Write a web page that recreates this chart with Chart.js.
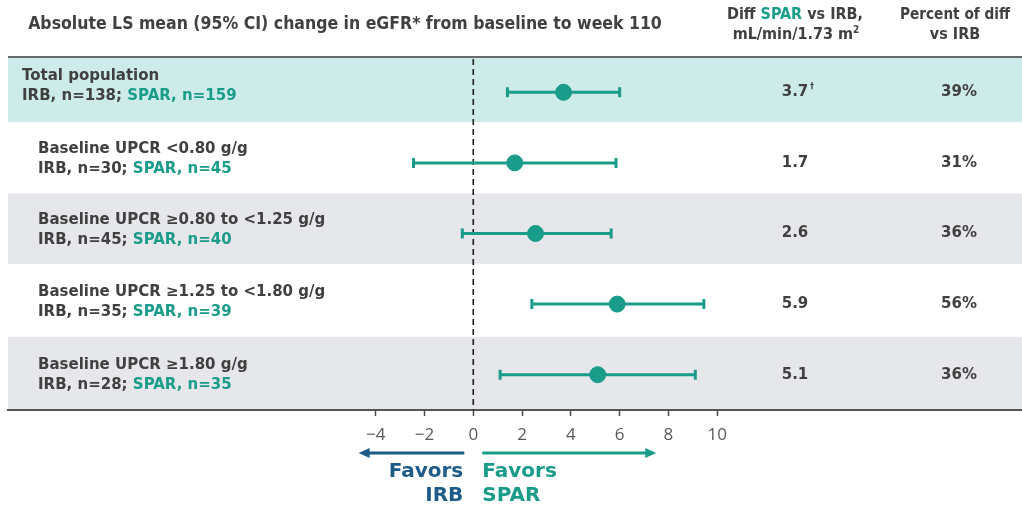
<!DOCTYPE html>
<html>
<head>
<meta charset="utf-8">
<script src="https://cdn.jsdelivr.net/npm/chart.js@4.4.1/dist/chart.umd.min.js"></script>
<style>
  html, body { margin: 0; padding: 0; background: #fff; }
  #wrap { width: 1022px; height: 506px; position: relative; }
</style>
</head>
<body>
<div id="wrap"><canvas id="forest"></canvas></div>
<script>
// subgroups (top to bottom)
const categories = ['Total population', 'Baseline UPCR <0.80 g/g', 'Baseline UPCR \u22650.80 to <1.25 g/g',
  'Baseline UPCR \u22651.25 to <1.80 g/g', 'Baseline UPCR \u22651.80 g/g'];
const irbN = [138, 30, 45, 35, 28];
const sparN = [159, 45, 40, 39, 35];
// LS mean difference and 95% CI
const meanDiff = [3.7, 1.7, 2.55, 5.9, 5.1];
const ciLower = [1.4, -2.45, -0.45, 2.4, 1.1];
const ciUpper = [6.0, 5.85, 5.65, 9.45, 9.1];
const diffLabels = ['3.7', '1.7', '2.6', '5.9', '5.1'];
const pctLabels = ['39%', '31%', '36%', '56%', '36%'];
const tickValues = [-4, -2, 0, 2, 4, 6, 8, 10];

const TEAL = '#1a9c8a';
const BLUE = '#1d5b88';
const DARK = '#404040';
const BOLD = "bold 15px 'DejaVu Sans', Verdana, sans-serif";
const COND = "bold 16px 'DejaVu Sans Condensed', 'DejaVu Sans', sans-serif";
const HEAD = "bold 17.5px 'DejaVu Sans Condensed', 'DejaVu Sans', sans-serif";

function drawRuns(ctx, runs, x, y, align) {
  let total = 0;
  runs.forEach(r => { ctx.font = r.f; total += ctx.measureText(r.t).width; });
  let cx = align === 'center' ? x - total / 2 : (align === 'right' ? x - total : x);
  ctx.textAlign = 'left';
  runs.forEach(r => {
    ctx.font = r.f; ctx.fillStyle = r.c;
    ctx.fillText(r.t, cx, y + (r.dy || 0));
    cx += ctx.measureText(r.t).width;
  });
}

const edges = [0, 0.92, 1.92, 2.93, 3.95, 5];

const forestPlugin = {
  id: 'forest',
  beforeDraw(chart) {
    const ctx = chart.ctx, y = chart.scales.y, area = chart.chartArea;
    const fills = ['#cdebe9', null, '#e6e7eb', null, '#e6e7eb'];
    ctx.save();
    fills.forEach((f, i) => {
      if (!f) return;
      const t = y.getPixelForValue(edges[i]), b = y.getPixelForValue(edges[i + 1]);
      ctx.fillStyle = f;
      ctx.fillRect(area.left, t + 1, chart.width - area.left, b - t - 1);
    });
    ctx.strokeStyle = '#6a6a6a';
    ctx.lineWidth = 2;
    ctx.beginPath();
    ctx.moveTo(area.left, area.top);
    ctx.lineTo(chart.width, area.top);
    ctx.stroke();
    ctx.restore();
  },
  beforeDatasetsDraw(chart) {
    const ctx = chart.ctx, x = chart.scales.x, y = chart.scales.y, area = chart.chartArea;
    ctx.save();
    // zero reference line
    const x0 = x.getPixelForValue(0);
    ctx.strokeStyle = '#1e1e1e';
    ctx.lineWidth = 1.6;
    ctx.setLineDash([6, 4]);
    ctx.beginPath();
    ctx.moveTo(x0, area.top + 2);
    ctx.lineTo(x0, area.bottom);
    ctx.stroke();
    ctx.setLineDash([]);
    // confidence intervals
    ctx.strokeStyle = TEAL;
    categories.forEach((c, i) => {
      const py = y.getPixelForValue(i + 0.5);
      const l = x.getPixelForValue(ciLower[i]), r = x.getPixelForValue(ciUpper[i]);
      ctx.lineWidth = 3;
      ctx.beginPath();
      ctx.moveTo(l, py); ctx.lineTo(r, py);
      ctx.moveTo(l, py - 5); ctx.lineTo(l, py + 5);
      ctx.moveTo(r, py - 5); ctx.lineTo(r, py + 5);
      ctx.stroke();
    });
    ctx.restore();
  },
  afterDraw(chart) {
    const ctx = chart.ctx, x = chart.scales.x, y = chart.scales.y;
    ctx.save();
    ctx.textBaseline = 'middle';
    // column headers
    ctx.fillStyle = DARK;
    ctx.font = HEAD;
    ctx.textAlign = 'center';
    ctx.fillText('Absolute LS mean (95% CI) change in eGFR* from baseline to week 110', 345, 24, 634);
    drawRuns(ctx, [{t: 'Diff ', c: DARK, f: COND}, {t: 'SPAR', c: TEAL, f: COND}, {t: ' vs IRB,', c: DARK, f: COND}], 795, 15, 'center');
    drawRuns(ctx, [{t: 'mL/min/1.73 m', c: DARK, f: COND},
      {t: '2', c: DARK, f: "bold 10px 'DejaVu Sans Condensed', sans-serif", dy: -5}], 796, 35, 'center');
    ctx.fillStyle = DARK;
    ctx.font = COND;
    ctx.textAlign = 'center';
    ctx.fillText('Percent of diff', 955, 15, 110);
    ctx.fillText('vs IRB', 955, 35);
    // row labels and values
    categories.forEach((c, i) => {
      const mid = (y.getPixelForValue(edges[i]) + y.getPixelForValue(edges[i + 1])) / 2 + (i === 0 ? -3 : 2);
      const lx = i === 0 ? 22 : 38;
      drawRuns(ctx, [{t: c, c: DARK, f: BOLD}], lx, mid - 10, 'left');
      drawRuns(ctx, [{t: 'IRB, n=' + irbN[i] + '; ', c: DARK, f: BOLD},
        {t: 'SPAR, n=' + sparN[i], c: TEAL, f: BOLD}], lx, mid + 10, 'left');
      const py = y.getPixelForValue(i + 0.5);
      ctx.font = BOLD; ctx.fillStyle = DARK; ctx.textAlign = 'center';
      ctx.fillText(diffLabels[i], 795, py);
      if (i === 0) {
        ctx.font = "bold 8px 'DejaVu Sans', sans-serif";
        ctx.textAlign = 'left';
        ctx.fillText('\u2020', 810, py - 5);
      }
      ctx.font = BOLD; ctx.textAlign = 'center';
      ctx.fillText(pctLabels[i], 959, py);
    });
    // favours arrows
    const x0 = x.getPixelForValue(0);
    const ay = 453;
    function arrow(from, to, col) {
      const dir = Math.sign(to - from);
      ctx.strokeStyle = col; ctx.fillStyle = col; ctx.lineWidth = 3;
      ctx.beginPath(); ctx.moveTo(from, ay); ctx.lineTo(to - dir * 6, ay); ctx.stroke();
      ctx.beginPath(); ctx.moveTo(to, ay); ctx.lineTo(to - dir * 11, ay - 5); ctx.lineTo(to - dir * 11, ay + 5);
      ctx.closePath(); ctx.fill();
    }
    arrow(x0 - 9, x.getPixelForValue(-4.7), BLUE);
    arrow(x0 + 9, x.getPixelForValue(7.5), TEAL);
    ctx.font = "bold 20px 'DejaVu Sans', Verdana, sans-serif";
    ctx.fillStyle = BLUE; ctx.textAlign = 'right';
    ctx.fillText('Favors', x0 - 10, 472);
    ctx.fillText('IRB', x0 - 10, 496);
    ctx.fillStyle = TEAL; ctx.textAlign = 'left';
    ctx.fillText('Favors', x0 + 9, 472);
    ctx.fillText('SPAR', x0 + 9, 496);
    ctx.restore();
  }
};

new Chart(document.getElementById('forest'), {
  type: 'scatter',
  data: {
    datasets: [{
      label: 'LS mean difference',
      data: meanDiff.map((v, i) => ({x: v, y: i + 0.5})),
      backgroundColor: TEAL,
      borderColor: TEAL,
      pointRadius: 8,
      pointHoverRadius: 8
    }]
  },
  options: {
    responsive: true,
    maintainAspectRatio: false,
    animation: false,
    layout: { autoPadding: false, padding: { left: 8, right: 0, top: 57, bottom: 0 } },
    plugins: { legend: { display: false }, tooltip: { enabled: false } },
    scales: {
      x: {
        type: 'linear',
        min: -19.07,
        max: 22.49,
        afterBuildTicks: (axis) => { axis.ticks = tickValues.map(v => ({value: v})); },
        afterFit: (axis) => { axis.height = 96; axis.paddingLeft = 0; axis.paddingRight = 0; },
        grid: { drawOnChartArea: false, drawTicks: true, tickLength: 6, color: '#4a4a4a', tickWidth: 1.5 },
        border: { display: true, color: '#555', width: 2 },
        ticks: {
          autoSkip: false,
          maxRotation: 0,
          padding: 9,
          color: '#595959',
          font: { family: "'Open Sans', sans-serif", size: 17 },
          callback: (v) => v < 0 ? '\u2212' + Math.abs(v) : String(v)
        }
      },
      y: { type: 'linear', reverse: true, min: 0, max: 5, display: false }
    }
  },
  plugins: [forestPlugin]
});
</script>
</body>
</html>
